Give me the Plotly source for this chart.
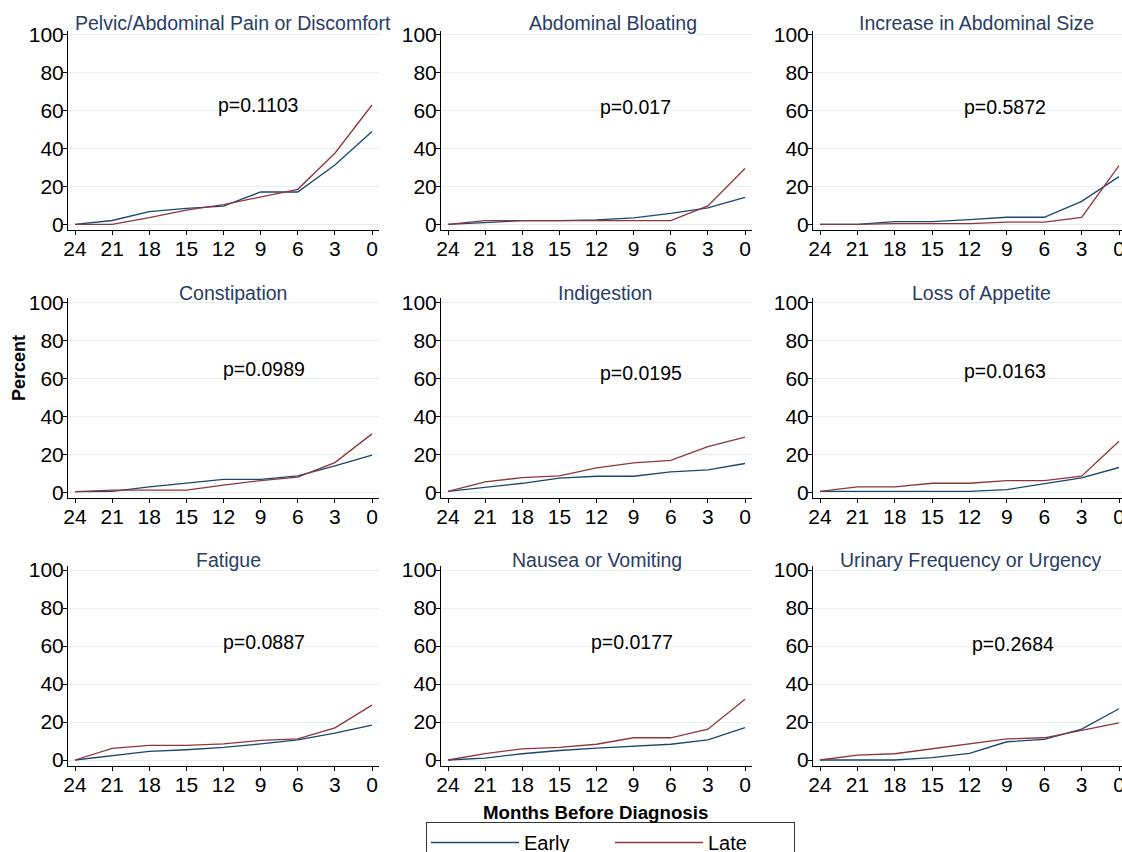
import plotly.graph_objects as go

# ---- data -----------------------------------------------------------------
months = [24, 21, 18, 15, 12, 9, 6, 3, 0]
month_labels = [str(m) for m in months]

panel_titles = [
    "Pelvic/Abdominal Pain or Discomfort",
    "Abdominal Bloating",
    "Increase in Abdominal Size",
    "Constipation",
    "Indigestion",
    "Loss of Appetite",
    "Fatigue",
    "Nausea or Vomiting",
    "Urinary Frequency or Urgency",
]
p_labels = [
    "p=0.1103", "p=0.017", "p=0.5872",
    "p=0.0989", "p=0.0195", "p=0.0163",
    "p=0.0887", "p=0.0177", "p=0.2684",
]

early_pain = [0, 2.0, 6.7, 8.4, 9.6, 17.0, 17.0, 31.2, 48.8]
late_pain = [0, 0, 3.5, 7.5, 10.4, 14.6, 18.4, 37.4, 62.8]

early_bloating = [0, 1.1, 1.9, 1.9, 2.3, 3.4, 5.7, 8.7, 14.2]
late_bloating = [0, 1.9, 1.9, 1.9, 1.9, 1.9, 1.9, 9.7, 29.4]

early_size = [0, 0, 1.4, 1.4, 2.5, 3.7, 3.7, 12.1, 25.1]
late_size = [0, 0, 0.4, 0.4, 0.4, 1.1, 1.1, 3.7, 30.9]

early_constipation = [0.3, 0.4, 2.8, 4.7, 6.8, 6.8, 8.6, 13.9, 19.5]
late_constipation = [0.3, 1.1, 1.1, 1.1, 3.7, 6.1, 7.9, 15.6, 30.7]

early_indigestion = [0.4, 2.5, 4.7, 7.4, 8.4, 8.4, 10.7, 11.8, 15.1]
late_indigestion = [0.4, 5.4, 7.7, 8.6, 12.8, 15.4, 16.8, 24.0, 29.0]

early_appetite = [0.4, 0.4, 0.4, 0.4, 0.4, 1.4, 4.6, 7.5, 13.0]
late_appetite = [0.4, 2.8, 2.8, 4.7, 4.7, 6.1, 6.1, 8.4, 26.8]

early_fatigue = [0, 2.4, 4.5, 5.4, 6.6, 8.5, 10.6, 14.1, 18.3]
late_fatigue = [0, 6.1, 7.7, 7.7, 8.5, 10.3, 11.1, 16.9, 28.9]

early_nausea = [0, 1.0, 3.3, 5.0, 6.3, 7.3, 8.3, 10.6, 17.0]
late_nausea = [0, 3.3, 5.9, 6.6, 8.3, 11.7, 11.7, 16.2, 32.0]

early_urinary = [0, 0, 0, 1.2, 3.5, 9.6, 10.8, 16.3, 27.0]
late_urinary = [0, 2.6, 3.3, 5.9, 8.5, 11.1, 11.7, 15.5, 19.5]

early_series = [early_pain, early_bloating, early_size,
                early_constipation, early_indigestion, early_appetite,
                early_fatigue, early_nausea, early_urinary]
late_series = [late_pain, late_bloating, late_size,
               late_constipation, late_indigestion, late_appetite,
               late_fatigue, late_nausea, late_urinary]

y_ticks = [0, 20, 40, 60, 80, 100]

# ---- layout geometry (pixels) ---------------------------------------------
W, H = 1122, 852
col_x24 = [75, 448, 820]      # pixel of month 24 in each column
col_x0 = [372, 745, 1119]     # pixel of month 0 in each column
x_pad = 7
row_y0 = [224.3, 492.2, 760]  # pixel of 0 % in each row
y_scale = 1.9                 # pixels per percent
y_lo, y_hi = -3, 102

title_pos = [(233, 23), (613, 23), (976, 23),
             (233, 293), (605, 293), (981, 293),
             (228, 560), (597, 560), (970, 560)]
p_pos = [(258, 105), (635, 107), (1005, 107),
         (264, 369), (641, 373), (1005, 371),
         (264, 642), (632, 642), (1013, 644)]

EARLY_COLOR = "#1a476f"
LATE_COLOR = "#90353b"
TITLE_COLOR = "#2a3d66"
GRID_COLOR = "#e6eff2"
FONT = "Liberation Sans, Arial, sans-serif"

fig = go.Figure()
layout_axes = {}
annotations = []

for i in range(9):
    r, c = divmod(i, 3)
    n = i + 1
    xa = "x" if n == 1 else f"x{n}"
    ya = "y" if n == 1 else f"y{n}"

    fig.add_trace(go.Scatter(
        x=months, y=early_series[i], mode="lines", name="Early",
        line=dict(color=EARLY_COLOR, width=1.3),
        xaxis=xa, yaxis=ya, legendgroup="early", showlegend=(i == 0),
    ))
    fig.add_trace(go.Scatter(
        x=months, y=late_series[i], mode="lines", name="Late",
        line=dict(color=LATE_COLOR, width=1.3),
        xaxis=xa, yaxis=ya, legendgroup="late", showlegend=(i == 0),
    ))

    # horizontal placement
    px_per = (col_x0[c] - col_x24[c]) / 24
    left = col_x24[c] - x_pad
    right = min(col_x0[c] + x_pad, W)
    x_range = [24 + (col_x24[c] - left) / px_per, -(right - col_x0[c]) / px_per]

    # vertical placement
    bottom = row_y0[r] - y_lo * y_scale
    top = row_y0[r] - y_hi * y_scale

    xkey = "xaxis" if n == 1 else f"xaxis{n}"
    ykey = "yaxis" if n == 1 else f"yaxis{n}"
    layout_axes[xkey] = dict(
        domain=[left / W, right / W], range=x_range, anchor=ya,
        tickmode="array", tickvals=months, ticktext=month_labels,
        showline=True, linecolor="black", linewidth=1,
        ticks="outside", ticklen=4, tickcolor="black",
        showgrid=False, zeroline=False,
        ticklabeloverflow="allow", ticklabelstandoff=-4,
        tickfont=dict(size=21, color="black", family=FONT),
    )
    layout_axes[ykey] = dict(
        domain=[1 - bottom / H, 1 - top / H], range=[y_lo, y_hi], anchor=xa,
        tickmode="array", tickvals=y_ticks,
        showline=True, linecolor="black", linewidth=1,
        ticks="outside", ticklen=4, tickcolor="black",
        showgrid=True, gridcolor=GRID_COLOR, gridwidth=1, zeroline=False,
        ticklabeloverflow="allow", ticklabelstandoff=-5,
        tickfont=dict(size=21, color="black", family=FONT),
    )

    tx, ty = title_pos[i]
    annotations.append(dict(
        text=panel_titles[i], x=tx / W, y=1 - ty / H, xref="paper", yref="paper",
        xanchor="center", yanchor="middle", showarrow=False,
        font=dict(size=19.5, color=TITLE_COLOR, family=FONT),
    ))
    px_, py_ = p_pos[i]
    annotations.append(dict(
        text=p_labels[i], x=px_ / W, y=1 - py_ / H, xref="paper", yref="paper",
        xanchor="center", yanchor="middle", showarrow=False,
        font=dict(size=19.5, color="black", family=FONT),
    ))

# shared axis titles
annotations.append(dict(
    text="<b>Percent</b>", x=19 / W, y=1 - 368 / H, xref="paper", yref="paper",
    xanchor="center", yanchor="middle", showarrow=False, textangle=-90,
    font=dict(size=18, color="black", family=FONT),
))
annotations.append(dict(
    text="<b>Months Before Diagnosis</b>", x=595 / W, y=1 - 812 / H,
    xref="paper", yref="paper", xanchor="center", yanchor="middle",
    showarrow=False, font=dict(size=18.7, color="black", family=FONT),
))

fig.update_layout(
    width=W, height=H,
    margin=dict(l=0, r=0, t=0, b=0, autoexpand=False),
    paper_bgcolor="white", plot_bgcolor="white",
    font=dict(family=FONT, color="black"),
    annotations=annotations,
    showlegend=True,
    legend=dict(
        orientation="h", x=426 / W, y=1 - 822 / H,
        xanchor="left", yanchor="top",
        bordercolor="#333333", borderwidth=1, bgcolor="white",
        font=dict(size=20, color="black", family=FONT),
        itemwidth=88, entrywidth=81, entrywidthmode="pixels",
        tracegroupgap=0,
    ),
    **layout_axes,
)

fig.write_html("out.html", config={"displayModeBar": False})
